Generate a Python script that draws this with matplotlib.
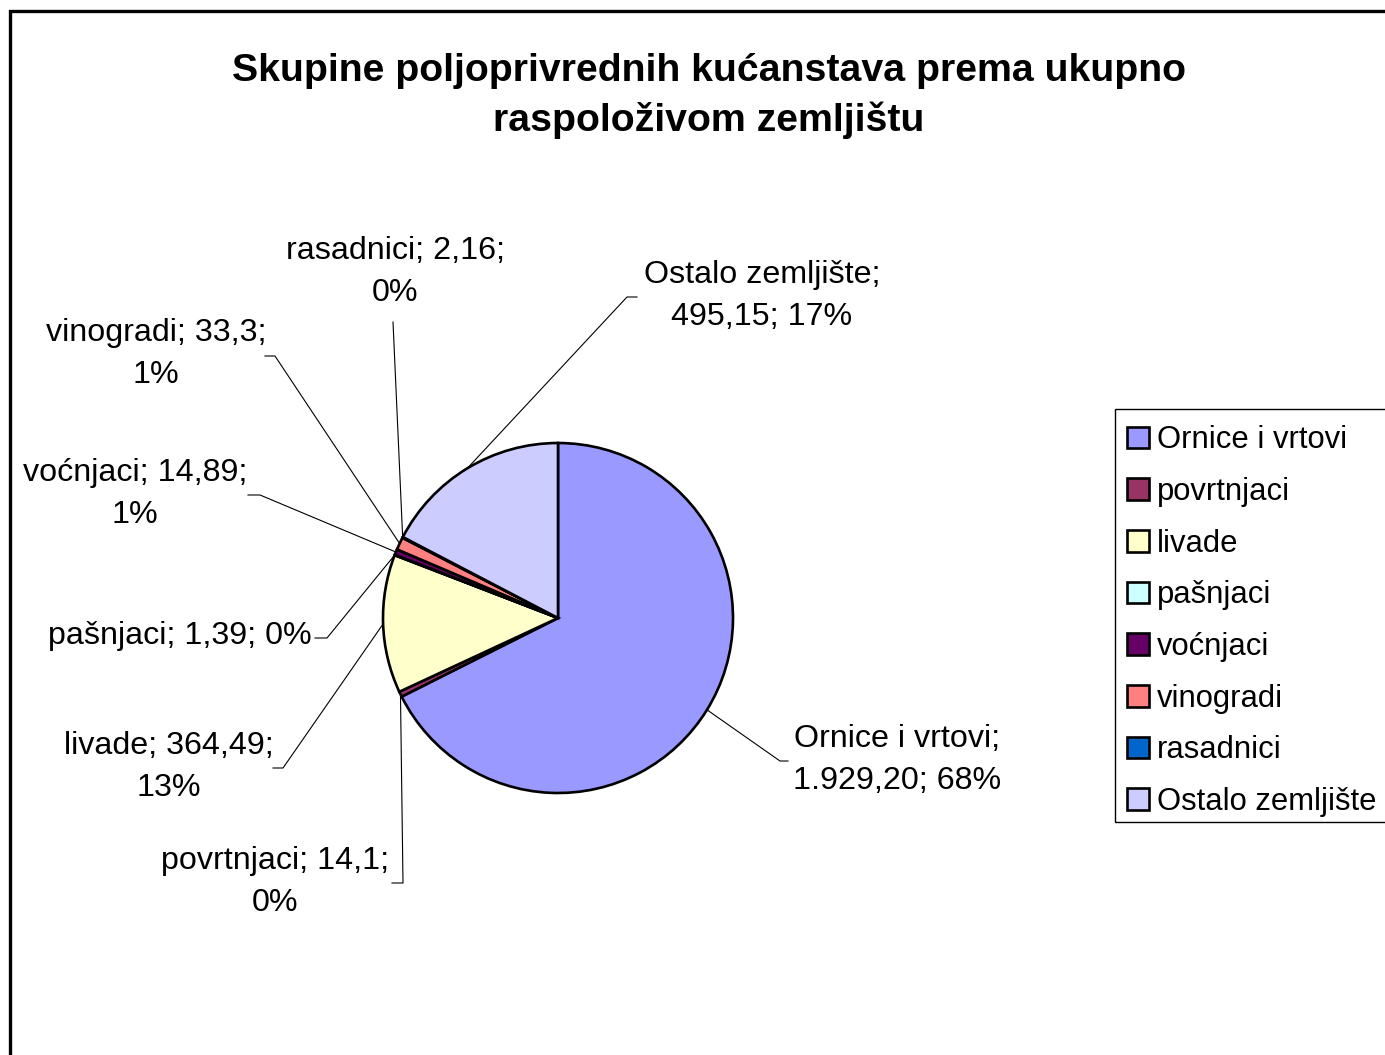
import numpy as np
import matplotlib.pyplot as plt
from matplotlib.patches import Rectangle

plt.rcParams['font.family'] = ['Liberation Sans', 'DejaVu Sans']

# data
categories = ['Ornice i vrtovi', 'povrtnjaci', 'livade', 'pašnjaci',
              'voćnjaci', 'vinogradi', 'rasadnici', 'Ostalo zemljište']
values = [1929.20, 14.1, 364.49, 1.39, 14.89, 33.3, 2.16, 495.15]
value_text = ['1.929,20', '14,1', '364,49', '1,39', '14,89', '33,3', '2,16', '495,15']
colors = ['#9999FF', '#993366', '#FFFFCC', '#CCFFFF',
          '#660066', '#FF8080', '#0066CC', '#CCCCFF']

# layout (pixel coords, y measured from top)
W, H = 1385, 1055
center = (558, 618)
radius = 175
# where each label block is centred, and after which "; " it wraps
label_pos = [(897, 760), (275, 882), (169, 767), (180, 636),
             (135, 494), (156, 354), (395, 272), (762, 296)]
label_wrap = [1, 2, 2, None, 2, 2, 2, 1]
# leader line elbows, from the pie side towards the label
leaders = [
    [(780, 761), (788, 761)],
    [(403, 883), (392, 883)],
    [(283, 768), (273, 768)],
    [(327, 638), (315, 638)],
    [(260, 495), (248, 495)],
    [(275, 356), (265, 356)],
    [(393, 322)],
    [(627, 297), (637, 297)],
]

fig = plt.figure(figsize=(W / 100, H / 100), dpi=100)
ax = fig.add_axes([0, 0, 1, 1])

cx, cy = center[0], H - center[1]
wedges, _ = ax.pie(values, colors=colors, startangle=90, counterclock=False,
                   center=(cx, cy), radius=radius, frame=True,
                   wedgeprops=dict(edgecolor='black', linewidth=1.9))
ax.set_xlim(0, W)
ax.set_ylim(0, H)
ax.set_aspect('equal')
ax.axis('off')

total = sum(values)
for i, w in enumerate(wedges):
    pct = '%d%%' % round(values[i] / total * 100)
    parts = [categories[i], value_text[i], pct]
    k = label_wrap[i]
    if k is None:
        s = '; '.join(parts)
    else:
        s = '; '.join(parts[:k]) + ';\n' + '; '.join(parts[k:])
    lx, ly = label_pos[i]
    ax.text(lx, H - ly, s, ha='center', va='center', fontsize=23.2,
            linespacing=1.5)

    mid = np.deg2rad((w.theta1 + w.theta2) / 2)
    xs = [cx + radius * np.cos(mid)] + [p[0] for p in leaders[i]]
    ys = [cy + radius * np.sin(mid)] + [H - p[1] for p in leaders[i]]
    ax.plot(xs, ys, color='black', lw=0.8)

ax.text(709, H - 96, 'Skupine poljoprivrednih kućanstava prema ukupno\n'
        'raspoloživom zemljištu', ha='center', va='center', fontsize=28.3,
        fontweight='bold', linespacing=1.45)

leg = ax.legend(wedges, categories, loc='upper left',
                bbox_to_anchor=(1115 / W, 1 - 413 / H),
                bbox_transform=fig.transFigure, fontsize=22.3,
                frameon=False, handlelength=0.7, handleheight=0.7,
                handletextpad=0.25, labelspacing=0.7, borderpad=0.4,
                borderaxespad=0)

# legend box runs off the right edge of the chart, as in the original
ax.add_patch(Rectangle((1115, H - 822), 400, 822 - 409, fill=False,
                       edgecolor='black', lw=1.0, clip_on=False))

# outer chart border
ax.add_patch(Rectangle((10, -50), W + 100, H - 11 + 50, fill=False,
                       edgecolor='black', lw=2.4, clip_on=False))

fig.savefig('out.png', dpi=100)
